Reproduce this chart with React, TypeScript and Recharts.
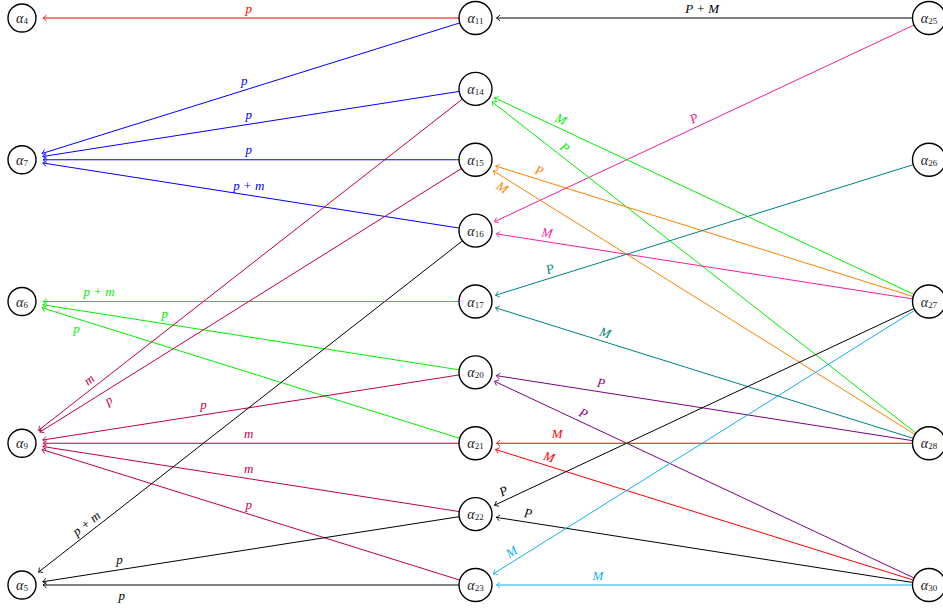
import React from 'react';
import { ScatterChart, Scatter, XAxis, YAxis, ReferenceLine } from 'recharts';

// node ids per column, with the row each one sits on
const leftNodes = [4, 7, 6, 9, 5];
const leftRows = [0, 2, 4, 6, 8];
const middleNodes = [11, 14, 15, 16, 17, 20, 21, 22, 23];
const middleRows = [0, 1, 2, 3, 4, 5, 6, 7, 8];
const rightNodes = [25, 26, 27, 28, 30];
const rightRows = [0, 2, 4, 6, 8];

// edges: [from, to, label, group]
const edges: [number, number, string, string][] = [
  [11, 4, 'p', 'red'],
  [11, 7, 'p', 'blue'],
  [14, 7, 'p', 'blue'],
  [15, 7, 'p', 'blue'],
  [16, 7, 'p + m', 'blue'],
  [17, 6, 'p + m', 'green'],
  [20, 6, 'p', 'green'],
  [21, 6, 'p', 'green'],
  [14, 9, 'm', 'purple'],
  [15, 9, 'p', 'purple'],
  [20, 9, 'p', 'purple'],
  [21, 9, 'm', 'purple'],
  [22, 9, 'm', 'purple'],
  [23, 9, 'p', 'purple'],
  [16, 5, 'p + m', 'black'],
  [22, 5, 'p', 'black'],
  [23, 5, 'p', 'black'],
  [25, 11, 'P + M', 'black'],
  [25, 16, 'P', 'magenta'],
  [27, 14, 'M', 'green'],
  [28, 14, 'P', 'green'],
  [27, 15, 'P', 'orange'],
  [28, 15, 'M', 'orange'],
  [27, 16, 'M', 'magenta'],
  [26, 17, 'P', 'teal'],
  [28, 17, 'M', 'teal'],
  [28, 20, 'P', 'violet'],
  [30, 20, 'P', 'violet'],
  [28, 21, 'M', 'red'],
  [30, 21, 'M', 'red'],
  [27, 22, 'P', 'black'],
  [30, 22, 'P', 'black'],
  [27, 23, 'M', 'cyan'],
  [30, 23, 'M', 'cyan'],
];

// label placement per edge: [position along edge, side, sloped]
const labelPlace: [number, string, boolean][] = [
  [0.5, 'above', false],
  [0.51, 'above', false],
  [0.5, 'above', false],
  [0.5, 'above', false],
  [0.5, 'above', false],
  [0.83, 'above', false],
  [0.685, 'above', false],
  [0.88, 'below', false],
  [0.84, 'above', true],
  [0.82, 'below', true],
  [0.6, 'above', false],
  [0.5, 'above', false],
  [0.5, 'above', false],
  [0.5, 'above', false],
  [0.846, 'above', true],
  [0.785, 'above', false],
  [0.78, 'below', false],
  [0.5, 'above', false],
  [0.51, 'above', true],
  [0.82, 'above', true],
  [0.815, 'above', true],
  [0.865, 'above', true],
  [0.93, 'below', true],
  [0.845, 'above', true],
  [0.83, 'above', true],
  [0.72, 'above', true],
  [0.726, 'above', true],
  [0.77, 'above', true],
  [0.82, 'above', false],
  [0.843, 'above', true],
  [0.93, 'above', true],
  [0.887, 'above', true],
  [0.91, 'above', true],
  [0.73, 'above', false],
];

const colors: Record<string, string> = {
  red: '#ff0000',
  blue: '#0000ff',
  green: '#00ee00',
  purple: '#bf0040',
  black: '#000000',
  magenta: '#f0209a',
  orange: '#ff8000',
  teal: '#008080',
  violet: '#800080',
  cyan: '#10b0f0',
};

const nodes = [
  ...leftNodes.map((id, i) => ({ id, x: 0, y: leftRows[i] })),
  ...middleNodes.map((id, i) => ({ id, x: 1, y: middleRows[i] })),
  ...rightNodes.map((id, i) => ({ id, x: 2, y: rightRows[i] })),
];
const nodeById: Record<number, { id: number; x: number; y: number }> = {};
nodes.forEach((n) => (nodeById[n.id] = n));

const SERIF = '"Liberation Serif", "DejaVu Serif", serif';
const TIP_GAP = 21;
const START_GAP = 16;

const NodeShape = (props: any) => {
  const { cx, cy, payload } = props;
  const sub = String(payload.id);
  const r = sub.length > 1 ? 16.5 : 14;
  return (
    <g>
      <circle cx={cx} cy={cy} r={r} fill="#fff" stroke="#000" strokeWidth={1.4} />
      <text x={cx} y={cy} textAnchor="middle" dominantBaseline="central" fontFamily={SERIF} fill="#222">
        <tspan fontSize={14} fontStyle="italic">α</tspan>
        <tspan fontSize={9} dy={3}>{sub}</tspan>
      </text>
    </g>
  );
};

const EdgeShape = (props: any) => {
  const { x1, y1, x2, y2, label, color, place } = props;
  const dx = x2 - x1;
  const dy = y2 - y1;
  const len = Math.hypot(dx, dy);
  const ux = dx / len;
  const uy = dy / len;
  const sx = x1 + ux * START_GAP;
  const sy = y1 + uy * START_GAP;
  const ex = x2 - ux * TIP_GAP;
  const ey = y2 - uy * TIP_GAP;
  const nx = -uy;
  const ny = ux;
  const head =
    `M ${ex - ux * 3.5 + nx * 3} ${ey - uy * 3.5 + ny * 3} ` +
    `Q ${ex - ux * 1 + nx * 0.6} ${ey - uy * 1 + ny * 0.6} ${ex} ${ey} ` +
    `Q ${ex - ux * 1 - nx * 0.6} ${ey - uy * 1 - ny * 0.6} ${ex - ux * 3.5 - nx * 3} ${ey - uy * 3.5 - ny * 3}`;

  const [t, side, sloped] = place;
  const sign = side === 'above' ? 1 : -1;
  const px = x1 + dx * t;
  const py = y1 + dy * t;
  let lx = px;
  let ly = py - sign * 10;
  let deg = 0;
  if (sloped) {
    let ax = uy;
    let ay = -ux;
    if (ay > 0) {
      ax = -ax;
      ay = -ay;
    }
    lx = px + sign * 9 * ax;
    ly = py + sign * 9 * ay;
    deg = (Math.atan2(dy, dx) * 180) / Math.PI;
    if (deg > 90) deg -= 180;
    if (deg < -90) deg += 180;
  }

  return (
    <g>
      <line x1={sx} y1={sy} x2={ex} y2={ey} stroke={color} strokeWidth={1} />
      <path d={head} fill="none" stroke={color} strokeWidth={0.9} />
      <text
        x={lx}
        y={ly}
        textAnchor="middle"
        dominantBaseline="central"
        fontFamily={SERIF}
        fontStyle="italic"
        fontSize={13}
        fill={color}
        transform={deg ? `rotate(${deg} ${lx} ${ly})` : undefined}
      >
        {label}
      </text>
    </g>
  );
};

export default function App() {
  return (
    <div style={{ position: 'absolute', left: 0, top: 0, width: 943, height: 608 }}>
      <ScatterChart width={943} height={608} margin={{ top: 18, right: 14, bottom: 23, left: 22 }}>
        <XAxis type="number" dataKey="x" domain={[0, 2]} hide />
        <YAxis type="number" dataKey="y" domain={[0, 8]} reversed hide />
        {edges.map(([from, to, label, group], i) => {
          const a = nodeById[from];
          const b = nodeById[to];
          const color = colors[group];
          return (
            <ReferenceLine
              key={i}
              ifOverflow="visible"
              segment={[{ x: a.x, y: a.y }, { x: b.x, y: b.y }]}
              shape={(p: any) => <EdgeShape {...p} label={label} color={color} place={labelPlace[i]} />}
            />
          );
        })}
        <Scatter data={nodes} isAnimationActive={false} shape={NodeShape} />
      </ScatterChart>
    </div>
  );
}
